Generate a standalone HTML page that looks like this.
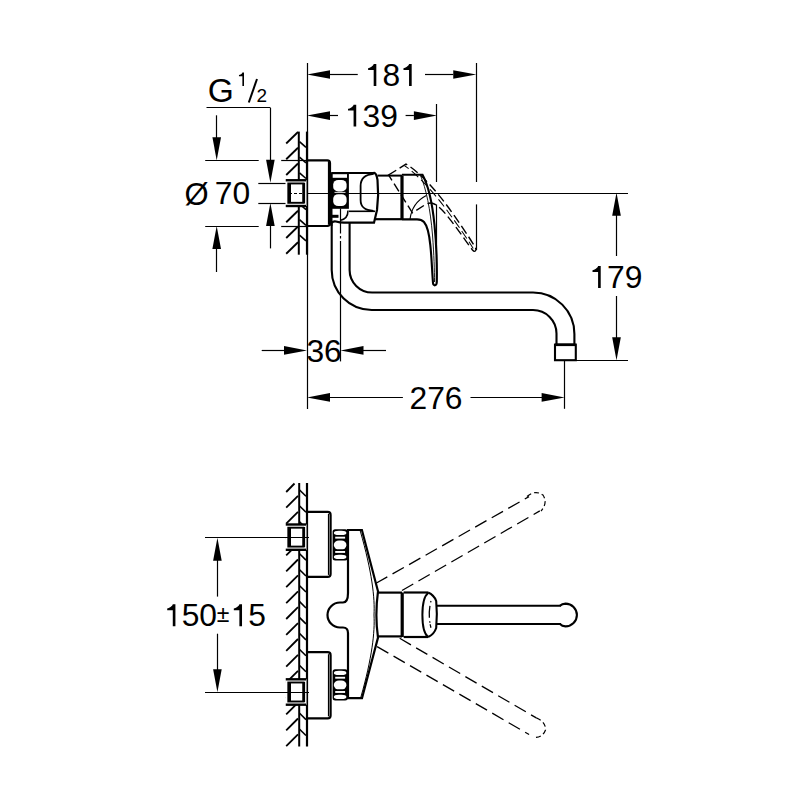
<!DOCTYPE html>
<html><head><meta charset="utf-8"><style>
html,body{margin:0;padding:0;background:#fff;width:800px;height:800px;overflow:hidden}
svg{display:block}
line,path,rect,polyline,circle,ellipse{stroke:#000;fill:none;stroke-linecap:butt}
.f{fill:#000;stroke:none}
.w{fill:#fff;stroke:none}
text{font-family:"Liberation Sans",sans-serif;fill:#000}
</style></head><body>
<svg width="800" height="800" viewBox="0 0 800 800">
<line x1="307.50" y1="63.00" x2="307.50" y2="409.00" stroke-width="1.2" />
<line x1="476.50" y1="63.00" x2="476.50" y2="182.00" stroke-width="1.2" />
<line x1="476.50" y1="204.40" x2="476.50" y2="250.00" stroke-width="1.2" />
<line x1="436.50" y1="104.00" x2="436.50" y2="182.00" stroke-width="1.2" />
<line x1="436.50" y1="204.40" x2="436.50" y2="283.00" stroke-width="1.2" />
<polygon class="f" points="307.00,74.50 330.00,70.20 330.00,78.80"/>
<line x1="330.00" y1="74.50" x2="357.75" y2="74.50" stroke-width="1.2" />
<text x="364.90" y="86.00" font-size="31.8" text-anchor="start"> 8 </text>
<path class="f" d="M376.32,64.06 V86.00 H373.68 V69.97 H368.11 V68.22 C370.02,68.06 373.36,65.97 373.68,64.06 Z"/>
<path class="f" d="M411.69,64.06 V86.00 H409.05 V69.97 H403.48 V68.22 C405.39,68.06 408.73,65.97 409.05,64.06 Z"/>
<line x1="425.00" y1="74.50" x2="453.25" y2="74.50" stroke-width="1.2" />
<polygon class="f" points="476.25,74.50 453.25,70.20 453.25,78.80"/>
<polygon class="f" points="307.00,115.60 330.00,111.30 330.00,119.90"/>
<line x1="330.00" y1="115.50" x2="338.00" y2="115.50" stroke-width="1.2" />
<text x="344.80" y="126.60" font-size="31.8" text-anchor="start"> 39</text>
<path class="f" d="M356.22,104.66 V126.60 H353.58 V110.57 H348.01 V108.82 C349.92,108.66 353.26,106.57 353.58,104.66 Z"/>
<line x1="405.60" y1="115.50" x2="413.90" y2="115.50" stroke-width="1.2" />
<polygon class="f" points="436.90,115.60 413.90,111.30 413.90,119.90"/>
<text x="207.80" y="102.20" font-size="33.5" text-anchor="start" >G</text>
<text x="237.00" y="86.00" font-size="19.5" text-anchor="start"> </text>
<path class="f" d="M244.00,72.55 V86.00 H242.38 V76.17 H238.97 V75.10 C240.14,75.00 242.19,73.72 242.38,72.55 Z"/>
<line x1="248.80" y1="102.50" x2="257.00" y2="79.00" stroke-width="2.0" />
<text x="256.50" y="102.00" font-size="19" text-anchor="start" >2</text>
<line x1="206.50" y1="107.50" x2="270.40" y2="107.50" stroke-width="1.2" />
<line x1="270.50" y1="107.80" x2="270.50" y2="160.00" stroke-width="1.2" />
<polygon class="f" points="270.40,182.80 266.10,159.80 274.70,159.80"/>
<polygon class="f" points="270.40,203.00 266.10,226.00 274.70,226.00"/>
<line x1="270.50" y1="226.00" x2="270.50" y2="248.40" stroke-width="1.2" />
<line x1="216.50" y1="115.30" x2="216.50" y2="138.00" stroke-width="1.2" />
<polygon class="f" points="216.70,160.30 212.40,137.30 221.00,137.30"/>
<polygon class="f" points="216.70,226.00 212.40,249.00 221.00,249.00"/>
<line x1="216.50" y1="249.00" x2="216.50" y2="272.00" stroke-width="1.2" />
<line x1="205.20" y1="160.50" x2="258.70" y2="160.50" stroke-width="1.2" />
<line x1="281.20" y1="160.50" x2="307.00" y2="160.50" stroke-width="1.2" />
<line x1="205.20" y1="226.50" x2="258.70" y2="226.50" stroke-width="1.2" />
<line x1="281.20" y1="226.50" x2="307.00" y2="226.50" stroke-width="1.2" />
<line x1="258.30" y1="183.50" x2="287.00" y2="183.50" stroke-width="1.2" />
<line x1="258.30" y1="203.50" x2="287.00" y2="203.50" stroke-width="1.2" />
<text x="184.60" y="204.50" font-size="31" text-anchor="start" >Ø</text>
<text x="214.80" y="204.40" font-size="31.8" text-anchor="start">70</text>
<line x1="304.00" y1="193.50" x2="628.00" y2="193.50" stroke-width="1.2" />
<line x1="576.00" y1="360.50" x2="628.00" y2="360.50" stroke-width="1.2" />
<polygon class="f" points="616.50,192.80 612.20,215.80 620.80,215.80"/>
<line x1="616.50" y1="215.00" x2="616.50" y2="256.00" stroke-width="1.2" />
<text x="589.30" y="288.00" font-size="31.8" text-anchor="start"> 79</text>
<path class="f" d="M600.72,266.06 V288.00 H598.08 V271.97 H592.51 V270.22 C594.42,270.06 597.76,267.97 598.08,266.06 Z"/>
<line x1="616.50" y1="296.00" x2="616.50" y2="338.00" stroke-width="1.2" />
<polygon class="f" points="616.50,360.30 612.20,337.30 620.80,337.30"/>
<line x1="261.70" y1="350.50" x2="284.00" y2="350.50" stroke-width="1.2" />
<polygon class="f" points="307.00,350.40 284.00,346.10 284.00,354.70"/>
<text x="306.40" y="361.60" font-size="31.8" text-anchor="start">36</text>
<polygon class="f" points="340.50,350.40 363.50,346.10 363.50,354.70"/>
<line x1="363.00" y1="350.50" x2="386.00" y2="350.50" stroke-width="1.2" />
<line x1="340.50" y1="208.50" x2="340.50" y2="233.50" stroke-width="1.2" />
<line x1="340.50" y1="236.00" x2="340.50" y2="238.50" stroke-width="1.2" />
<line x1="340.50" y1="241.00" x2="340.50" y2="361.40" stroke-width="1.2" />
<polygon class="f" points="307.00,397.40 330.00,393.10 330.00,401.70"/>
<line x1="330.00" y1="397.50" x2="402.90" y2="397.50" stroke-width="1.2" />
<text x="409.50" y="408.60" font-size="31.8" text-anchor="start">276</text>
<line x1="470.50" y1="397.50" x2="542.00" y2="397.50" stroke-width="1.2" />
<polygon class="f" points="564.60,397.40 541.60,393.10 541.60,401.70"/>
<line x1="564.50" y1="360.00" x2="564.50" y2="408.80" stroke-width="1.2" />
<line x1="307.00" y1="131.60" x2="307.00" y2="254.70" stroke-width="2.2" />
<line x1="298.80" y1="131.60" x2="298.80" y2="254.70" stroke-width="2.0" />
<line x1="286.20" y1="143.50" x2="298.00" y2="132.00" stroke-width="1.8" />
<line x1="286.20" y1="159.25" x2="298.00" y2="147.75" stroke-width="1.8" />
<line x1="286.20" y1="175.00" x2="298.00" y2="163.50" stroke-width="1.8" />
<line x1="286.20" y1="222.25" x2="298.00" y2="210.75" stroke-width="1.8" />
<line x1="286.20" y1="238.00" x2="298.00" y2="226.50" stroke-width="1.8" />
<line x1="286.20" y1="253.75" x2="298.00" y2="242.25" stroke-width="1.8" />
<line x1="299.50" y1="141.60" x2="306.00" y2="147.30" stroke-width="1.6" />
<line x1="299.50" y1="157.20" x2="306.00" y2="162.90" stroke-width="1.6" />
<line x1="299.50" y1="172.80" x2="306.00" y2="178.50" stroke-width="1.6" />
<line x1="299.50" y1="204.00" x2="306.00" y2="209.70" stroke-width="1.6" />
<line x1="299.50" y1="219.60" x2="306.00" y2="225.30" stroke-width="1.6" />
<line x1="299.50" y1="235.20" x2="306.00" y2="240.90" stroke-width="1.6" />
<rect x="285.5" y="180.25" width="21" height="25.75" class="w"/>
<line x1="285.75" y1="180.25" x2="306.00" y2="180.25" stroke-width="2.4" />
<line x1="285.75" y1="206.00" x2="306.00" y2="206.00" stroke-width="2.4" />
<rect x="288.3" y="183.45" width="14.90" height="19.35" stroke-width="1.9"/>
<line x1="289.70" y1="183.45" x2="289.70" y2="202.80" stroke-width="2.6" />
<line x1="304.50" y1="182.75" x2="304.50" y2="203.50" stroke-width="1.2" />
<line x1="289.00" y1="193.50" x2="304.00" y2="193.50" stroke-width="1.2" stroke-dasharray="3 2"/>
<path d="M307,160.3 H327.3 Q330,160.3 330,163 V223.3 Q330,226 327.3,226 H307" stroke-width="2.2" />
<line x1="328.50" y1="162.00" x2="328.50" y2="224.50" stroke-width="1.2" />
<rect x="331.3" y="172" width="17.6" height="36.8" class="f"/>
<rect x="332.4" y="174.2" width="14.6" height="3.6" class="w"/>
<rect x="333.2" y="180" width="13.4" height="11.4" rx="5" ry="4.5" class="w"/>
<rect x="333.2" y="194.3" width="13.4" height="11.8" rx="5" ry="4.5" class="w"/>
<rect x="334.5" y="191.9" width="11" height="0.9" class="w"/>
<line x1="331.50" y1="173.00" x2="374.00" y2="173.00" stroke-width="2.2" />
<line x1="331.50" y1="173.00" x2="331.50" y2="226.00" stroke-width="2" />
<path d="M373.7,172.7 Q376.5,173 377.5,180 Q379,195 377,210 L374,222.7 L344,222.7 Q340,222.7 336,221.5 Q333,221 331.8,223" stroke-width="2.2" />
<path d="M373.75,173.9 C366,174.5 360.6,177.5 360.6,186 V200 C360.6,207.5 365,210.3 373.5,210.8" stroke-width="1.8" />
<line x1="349.00" y1="211.30" x2="375.00" y2="211.30" stroke-width="1.6" />
<path d="M348,210.5 Q348,219 340,220.5" stroke-width="1.6" />
<rect x="331.5" y="214.8" width="7" height="3" class="f"/>
<line x1="377.50" y1="175.60" x2="402.00" y2="175.60" stroke-width="2" />
<line x1="374.50" y1="219.20" x2="402.00" y2="219.20" stroke-width="2.2" />
<line x1="402.00" y1="175.60" x2="402.00" y2="219.40" stroke-width="3.2" />
<path d="M402,174.8 H422.5 C427,183 432,200 434.5,225 C436.5,245 437,270 436.8,282 C436.6,286 433.5,286.5 433,283 C432,270 431.5,255 430.3,245 C429,232 427.5,226 424,222 Q421.5,219.4 417,219.4 H402" stroke-width="2.1" />
<path d="M420.5,175.5 C426,188 430.5,210 432.5,235 C434,255 434.5,270 434.5,282" stroke-width="0.9" />
<path d="M410,219.4 Q412,203 426.3,195.6" stroke-width="1.1" />
<g transform="rotate(-32.2 395.7 198.1)"><path d="M402,174.8 H422.5 C427,183 432,200 434.5,225 C436.5,245 437,270 436.8,282 C436.6,286 433.5,286.5 433,283 C432,270 431.5,255 430.3,245 C429,232 427.5,226 424,222 Q421.5,219.4 417,219.4 H402 Z" stroke-width="1.4" stroke-dasharray="9 4"/><path d="M420.5,175.5 C426,188 430.5,210 432.5,235 C434,255 434.5,270 434.5,282" stroke-width="1.0" stroke-dasharray="9 4" stroke-dashoffset="4"/></g>
<path d="M331.7,223 V270 A40,40 0 0 0 371.7,310 H533 A23.5,23.5 0 0 1 556.5,333.5 V344.5" stroke-width="2.1" />
<path d="M349.6,223 V270 A22.5,22.5 0 0 0 372.1,292.5 H533 A41.4,41.4 0 0 1 574.4,333.9 V344.5" stroke-width="2.1" />
<rect x="555" y="344.6" width="20.8" height="15.6" stroke-width="2.1"/>
<line x1="555.00" y1="344.80" x2="575.50" y2="344.80" stroke-width="2.6" />
<line x1="307.00" y1="483.00" x2="307.00" y2="746.50" stroke-width="2.2" />
<line x1="299.20" y1="483.00" x2="299.20" y2="746.50" stroke-width="2.0" />
<line x1="286.20" y1="507.70" x2="298.00" y2="495.90" stroke-width="1.8" />
<line x1="286.20" y1="523.60" x2="298.00" y2="511.80" stroke-width="1.8" />
<line x1="286.20" y1="539.50" x2="298.00" y2="527.70" stroke-width="1.8" />
<line x1="286.20" y1="555.40" x2="298.00" y2="543.60" stroke-width="1.8" />
<line x1="286.20" y1="571.30" x2="298.00" y2="559.50" stroke-width="1.8" />
<line x1="286.20" y1="587.20" x2="298.00" y2="575.40" stroke-width="1.8" />
<line x1="286.20" y1="603.10" x2="298.00" y2="591.30" stroke-width="1.8" />
<line x1="286.20" y1="619.00" x2="298.00" y2="607.20" stroke-width="1.8" />
<line x1="286.20" y1="634.90" x2="298.00" y2="623.10" stroke-width="1.8" />
<line x1="286.20" y1="650.80" x2="298.00" y2="639.00" stroke-width="1.8" />
<line x1="286.20" y1="666.70" x2="298.00" y2="654.90" stroke-width="1.8" />
<line x1="286.20" y1="682.60" x2="298.00" y2="670.80" stroke-width="1.8" />
<line x1="286.20" y1="698.50" x2="298.00" y2="686.70" stroke-width="1.8" />
<line x1="286.20" y1="714.40" x2="298.00" y2="702.60" stroke-width="1.8" />
<line x1="286.20" y1="730.30" x2="298.00" y2="718.50" stroke-width="1.8" />
<line x1="286.20" y1="746.20" x2="298.00" y2="734.40" stroke-width="1.8" />
<line x1="299.60" y1="490.00" x2="306.00" y2="496.30" stroke-width="1.6" />
<line x1="299.60" y1="505.95" x2="306.00" y2="512.25" stroke-width="1.6" />
<line x1="299.60" y1="521.90" x2="306.00" y2="528.20" stroke-width="1.6" />
<line x1="299.60" y1="537.85" x2="306.00" y2="544.15" stroke-width="1.6" />
<line x1="299.60" y1="553.80" x2="306.00" y2="560.10" stroke-width="1.6" />
<line x1="299.60" y1="569.75" x2="306.00" y2="576.05" stroke-width="1.6" />
<line x1="299.60" y1="585.70" x2="306.00" y2="592.00" stroke-width="1.6" />
<line x1="299.60" y1="601.65" x2="306.00" y2="607.95" stroke-width="1.6" />
<line x1="299.60" y1="617.60" x2="306.00" y2="623.90" stroke-width="1.6" />
<line x1="299.60" y1="633.55" x2="306.00" y2="639.85" stroke-width="1.6" />
<line x1="299.60" y1="649.50" x2="306.00" y2="655.80" stroke-width="1.6" />
<line x1="299.60" y1="665.45" x2="306.00" y2="671.75" stroke-width="1.6" />
<line x1="299.60" y1="681.40" x2="306.00" y2="687.70" stroke-width="1.6" />
<line x1="299.60" y1="697.35" x2="306.00" y2="703.65" stroke-width="1.6" />
<line x1="299.60" y1="713.30" x2="306.00" y2="719.60" stroke-width="1.6" />
<line x1="299.60" y1="729.25" x2="306.00" y2="735.55" stroke-width="1.6" />
<line x1="286.20" y1="492.00" x2="294.50" y2="483.50" stroke-width="1.8" />
<rect x="285.5" y="524.50" width="21" height="25.30" class="w"/>
<line x1="285.75" y1="524.50" x2="306.00" y2="524.50" stroke-width="2.4" />
<line x1="285.75" y1="549.80" x2="306.00" y2="549.80" stroke-width="2.4" />
<rect x="288.3" y="527.70" width="14.90" height="18.90" stroke-width="1.9"/>
<line x1="289.70" y1="527.70" x2="289.70" y2="546.60" stroke-width="2.6" />
<line x1="304.50" y1="527.00" x2="304.50" y2="547.30" stroke-width="1.2" />
<rect x="285.5" y="679.30" width="21" height="25.40" class="w"/>
<line x1="285.75" y1="679.30" x2="306.00" y2="679.30" stroke-width="2.4" />
<line x1="285.75" y1="704.70" x2="306.00" y2="704.70" stroke-width="2.4" />
<rect x="288.3" y="682.50" width="14.90" height="19.00" stroke-width="1.9"/>
<line x1="289.70" y1="682.50" x2="289.70" y2="701.50" stroke-width="2.6" />
<line x1="304.50" y1="681.80" x2="304.50" y2="702.20" stroke-width="1.2" />
<path d="M307,511.9 H327.6 Q330.6,511.9 330.6,514.9 V573.9 Q330.6,576.9 327.6,576.9 H307" stroke-width="2.2" />
<line x1="328.50" y1="513.90" x2="328.50" y2="574.90" stroke-width="1.2" />
<path d="M307,652.2 H327.6 Q330.6,652.2 330.6,655.2 V715.4 Q330.6,718.4 327.6,718.4 H307" stroke-width="2.2" />
<line x1="328.50" y1="654.20" x2="328.50" y2="716.40" stroke-width="1.2" />
<rect x="332.6" y="529.2" width="15.10" height="31.30" rx="2.5" class="f"/>
<rect x="333.90000000000003" y="530.70" width="12.50" height="4.30" rx="5" ry="2.1" class="w"/>
<rect x="335.20000000000005" y="536.70" width="9.90" height="1.90" class="w"/>
<rect x="333.90000000000003" y="540.50" width="12.50" height="8.80" rx="5" ry="4" class="w"/>
<rect x="335.20000000000005" y="551.00" width="9.90" height="1.90" class="w"/>
<rect x="333.90000000000003" y="554.70" width="12.50" height="4.30" rx="5" ry="2.1" class="w"/>
<rect x="332.6" y="669.3" width="15.10" height="31.20" rx="2.5" class="f"/>
<rect x="333.90000000000003" y="670.80" width="12.50" height="4.29" rx="5" ry="2.1" class="w"/>
<rect x="335.20000000000005" y="676.78" width="9.90" height="1.89" class="w"/>
<rect x="333.90000000000003" y="680.56" width="12.50" height="8.77" rx="5" ry="4" class="w"/>
<rect x="335.20000000000005" y="691.03" width="9.90" height="1.89" class="w"/>
<rect x="333.90000000000003" y="694.72" width="12.50" height="4.29" rx="5" ry="2.1" class="w"/>
<path d="M348,530 V593 Q348,602.5 343,602.5 H340 A12.5,12.5 0 0 0 340,627.5 H343 Q348,627.5 348,633 V698.2 H362 L378,637.6 Q374.8,615 378,591.3 L361.9,530 Z" stroke-width="2.2" />
<path d="M360.2,530.7 C372,572 375,598 374,615 C375,632 372,658 360.9,697" stroke-width="1.0" />
<line x1="378.00" y1="592.60" x2="402.00" y2="592.60" stroke-width="2.2" />
<line x1="378.00" y1="636.40" x2="402.00" y2="636.40" stroke-width="2.2" />
<line x1="402.20" y1="592.50" x2="402.20" y2="637.00" stroke-width="3.2" />
<line x1="403.70" y1="592.50" x2="428.10" y2="592.50" stroke-width="2.2" />
<line x1="403.70" y1="637.00" x2="428.10" y2="637.00" stroke-width="2.2" />
<path d="M428.1,592.5 Q434,595 436.2,601 Q437.5,614 436.2,628 Q434,634.5 428.1,637" stroke-width="2.1" />
<path d="M428.1,593 C420.5,599 420.5,631 428.1,637" stroke-width="2.0" />
<path d="M431,601 Q427.5,614 431,628" stroke-width="1.3" stroke-dasharray="1.5 3.5 12 3.5 1.5"/>
<line x1="436.50" y1="605.80" x2="561.00" y2="605.80" stroke-width="2.1" />
<line x1="436.50" y1="624.00" x2="561.00" y2="624.00" stroke-width="2.1" />
<path d="M560,605.8 Q562,603.8 565.5,603.6 A11.4,11.4 0 0 1 565.5,626.4 Q562,626.2 560,624" stroke-width="2.1" />
<line x1="376.00" y1="583.30" x2="529.00" y2="496.60" stroke-width="1.3" stroke-dasharray="13 6"/>
<line x1="402.00" y1="590.50" x2="539.80" y2="510.90" stroke-width="1.3" stroke-dasharray="13 6"/>
<path d="M527,496.5 Q535,489.5 543,495 Q548,503 541,511" stroke-width="1.2" stroke-dasharray="5 3"/>
<line x1="377.10" y1="646.60" x2="529.10" y2="734.50" stroke-width="1.3" stroke-dasharray="13 6"/>
<line x1="399.70" y1="638.30" x2="536.30" y2="717.90" stroke-width="1.3" stroke-dasharray="13 6"/>
<path d="M536.3,717.9 Q546,722 545.5,730 Q543,737 535,737.5" stroke-width="1.2" stroke-dasharray="5 3"/>
<line x1="205.00" y1="537.50" x2="309.00" y2="537.50" stroke-width="1.2" />
<line x1="205.00" y1="692.50" x2="309.00" y2="692.50" stroke-width="1.2" />
<polygon class="f" points="217.40,537.80 213.10,560.80 221.70,560.80"/>
<line x1="217.50" y1="560.00" x2="217.50" y2="596.60" stroke-width="1.2" />
<line x1="217.50" y1="633.70" x2="217.50" y2="670.00" stroke-width="1.2" />
<polygon class="f" points="217.40,692.30 213.10,669.30 221.70,669.30"/>
<text x="164.00" y="626.30" font-size="31.8" text-anchor="start"> 50</text>
<path class="f" d="M175.42,604.36 V626.30 H172.78 V610.27 H167.21 V608.52 C169.12,608.36 172.46,606.27 172.78,604.36 Z"/>
<text x="216.80" y="622.30" font-size="23" text-anchor="start" >±</text>
<text x="230.60" y="626.30" font-size="31.8" text-anchor="start"> 5</text>
<path class="f" d="M242.02,604.36 V626.30 H239.38 V610.27 H233.81 V608.52 C235.72,608.36 239.06,606.27 239.38,604.36 Z"/>
</svg></body></html>
